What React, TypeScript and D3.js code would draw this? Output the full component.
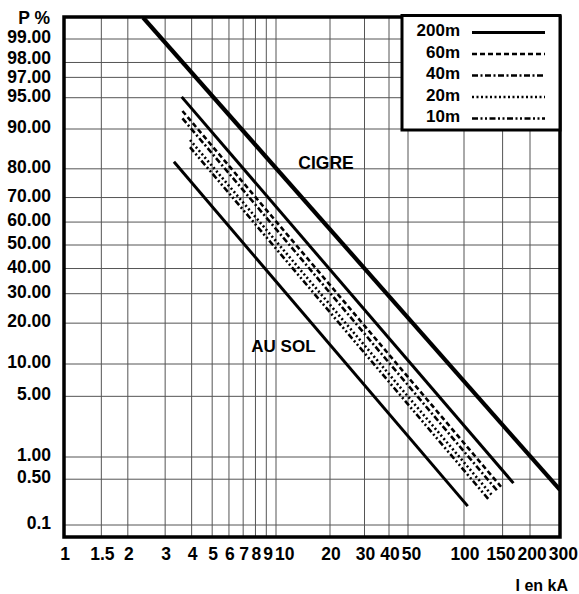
import { useRef, useEffect } from "react";
import * as d3 from "d3";

// current axis (kA) ticks
const xTicks = [1, 1.5, 2, 3, 4, 5, 6, 7, 8, 9, 10, 20, 30, 40, 50, 100, 150, 200, 300];
const xTickLabels = ["1", "1.5", "2", "3", "4", "5", "6", "7", "8", "9", "10", "20", "30", "40", "50", "100", "150", "200", "300"];

// probability axis (%) ticks
const pTicks = [99, 98, 97, 95, 90, 80, 70, 60, 50, 40, 30, 20, 10, 5, 1, 0.5, 0.1];
const pTickLabels = ["99.00", "98.00", "97.00", "95.00", "90.00", "80.00", "70.00", "60.00", "50.00", "40.00", "30.00", "20.00", "10.00", "5.00", "1.00", "0.50", "0.1"];

// each line: [I kA, P %] at start and end
const cigre: [number, number][] = [[2.36, 99.5], [300, 0.35]];
const h200: [number, number][] = [[3.59, 95.1], [168, 0.44]];
const h60: [number, number][] = [[3.62, 93.2], [147.5, 0.39]];
const h40: [number, number][] = [[3.62, 92.0], [143, 0.33]];
const h20: [number, number][] = [[3.93, 87.7], [135.6, 0.28]];
const h10: [number, number][] = [[3.93, 86.0], [130, 0.25]];
const auSol: [number, number][] = [[3.3, 82.1], [104, 0.2]];

const legendNames = ["200m", "60m", "40m", "20m", "10m"];
const legendDash = [null, "5,3", "6,2.5,2,2.5", "2,2.5", "6,2.5,2,2.5,2,2.5"];

const FONT = "'Liberation Sans', Arial, Helvetica, sans-serif";

// inverse normal CDF (Acklam)
function probit(pct: number) {
  const p = pct / 100;
  const a = [-39.69683028665376, 220.9460984245205, -275.9285104469687, 138.357751867269, -30.66479806614716, 2.506628277459239];
  const b = [-54.47609879822406, 161.5858368580409, -155.6989798598866, 66.80131188771972, -13.28068155288572];
  const c = [-0.007784894002430293, -0.3223964580411365, -2.400758277161838, -2.549732539343734, 4.374664141464968, 2.938163982698783];
  const d = [0.007784695709041462, 0.3224671290700398, 2.445134137142996, 3.754408661907416];
  const lo = 0.02425;
  if (p < lo) {
    const q = Math.sqrt(-2 * Math.log(p));
    return (((((c[0] * q + c[1]) * q + c[2]) * q + c[3]) * q + c[4]) * q + c[5]) / ((((d[0] * q + d[1]) * q + d[2]) * q + d[3]) * q + 1);
  }
  if (p > 1 - lo) {
    const q = Math.sqrt(-2 * Math.log(1 - p));
    return -(((((c[0] * q + c[1]) * q + c[2]) * q + c[3]) * q + c[4]) * q + c[5]) / ((((d[0] * q + d[1]) * q + d[2]) * q + d[3]) * q + 1);
  }
  const q = p - 0.5;
  const r = q * q;
  return (((((a[0] * r + a[1]) * r + a[2]) * r + a[3]) * r + a[4]) * r + a[5]) * q / (((((b[0] * r + b[1]) * r + b[2]) * r + b[3]) * r + b[4]) * r + 1);
}

export default function App() {
  const svgRef = useRef<SVGSVGElement>(null);

  useEffect(() => {
    if (!svgRef.current) return;
    const svg = d3.select(svgRef.current);
    svg.selectAll("*").remove();

    const frame = { left: 64, right: 560, top: 17, bottom: 537 };

    // the paper is hand-ruled, so both scales are piecewise
    const x = d3.scaleLog()
      .domain([1, 10, 20, 50, 100, 200, 300])
      .range([64, 276, 330, 408, 464, 530, 560]);
    const yz = d3.scaleLinear()
      .domain([0.1, 1, 10, 50, 90, 99].map(probit))
      .range([525, 457, 364, 245, 129, 39]);
    const y = (p: number) => yz(probit(p));

    svg.append("rect").attr("width", 579).attr("height", 594).attr("fill", "#fff");

    // grid
    const grid = svg.append("g").attr("stroke", "#555").attr("stroke-width", 1);
    grid.selectAll(".hg")
      .data(pTicks)
      .enter()
      .append("line")
      .attr("x1", frame.left).attr("x2", frame.right)
      .attr("y1", (d) => y(d)).attr("y2", (d) => y(d));
    grid.selectAll(".vg")
      .data(xTicks.slice(1, -1))
      .enter()
      .append("line")
      .attr("x1", (d) => x(d)).attr("x2", (d) => x(d))
      .attr("y1", frame.top).attr("y2", frame.bottom);

    // lines
    svg.append("clipPath").attr("id", "plot-clip")
      .append("rect")
      .attr("x", frame.left).attr("y", frame.top)
      .attr("width", frame.right - frame.left).attr("height", frame.bottom - frame.top);

    const line = d3.line<[number, number]>().x((d) => x(d[0])).y((d) => y(d[1]));
    const series = [
      { pts: cigre, w: 4.2, dash: null },
      { pts: h200, w: 3, dash: null },
      { pts: h60, w: 2.6, dash: legendDash[1] },
      { pts: h40, w: 2.6, dash: legendDash[2] },
      { pts: h20, w: 2.6, dash: legendDash[3] },
      { pts: h10, w: 2.6, dash: legendDash[4] },
      { pts: auSol, w: 3, dash: null },
    ];
    const lines = svg.append("g").attr("clip-path", "url(#plot-clip)");
    series.forEach((s) => {
      lines.append("path")
        .attr("d", line(s.pts))
        .attr("fill", "none")
        .attr("stroke", "#000")
        .attr("stroke-width", s.w)
        .attr("stroke-dasharray", s.dash);
    });

    // annotations
    svg.append("text").attr("x", x(19)).attr("y", y(80)).attr("text-anchor", "middle")
      .attr("font-family", FONT).attr("font-weight", "bold").attr("font-size", 17.5).text("CIGRE");
    svg.append("text").attr("x", x(11)).attr("y", y(12.5)).attr("text-anchor", "middle")
      .attr("font-family", FONT).attr("font-weight", "bold").attr("font-size", 17).text("AU SOL");

    // frame
    svg.append("rect")
      .attr("x", frame.left).attr("y", frame.top)
      .attr("width", frame.right - frame.left).attr("height", frame.bottom - frame.top)
      .attr("fill", "none").attr("stroke", "#000").attr("stroke-width", 3.5);

    // legend
    const lg = svg.append("g");
    lg.append("rect").attr("x", 402).attr("y", 15.5).attr("width", 158).attr("height", 114.5)
      .attr("fill", "#fff").attr("stroke", "#000").attr("stroke-width", 3);
    legendNames.forEach((name, i) => {
      const cy = 30 + i * 21.5;
      lg.append("text").attr("x", 460).attr("y", cy + 6).attr("text-anchor", "end")
        .attr("font-family", FONT).attr("font-weight", "bold").attr("font-size", 17).text(name);
      lg.append("line").attr("x1", 472).attr("x2", 545).attr("y1", cy + 2.5).attr("y2", cy + 2.5)
        .attr("stroke", "#000").attr("stroke-width", i === 0 ? 3 : 2.5)
        .attr("stroke-dasharray", legendDash[i]);
    });

    // axis labels
    const tl = svg.append("g").attr("font-family", FONT).attr("font-weight", "bold").attr("font-size", 17.5);

    // y labels: top-down, keep enough room between baselines
    const minStep = 19;
    const yPos: number[] = [];
    pTicks.forEach((p, i) => {
      let b = y(p) + 4;
      if (i > 0 && b - yPos[i - 1] < minStep) {
        const need = minStep - (b - yPos[i - 1]);
        yPos[i - 1] -= need * 0.7;
        b += need * 0.3;
      }
      yPos.push(b);
    });
    tl.selectAll(".yl")
      .data(pTicks)
      .enter()
      .append("text")
      .attr("x", 51)
      .attr("y", (d, i) => yPos[i])
      .attr("text-anchor", "end")
      .text((d, i) => pTickLabels[i]);

    // x labels: centred on ticks, then nudged apart where they collide
    const gap = 2;
    const xl = tl.selectAll<SVGTextElement, number>(".xl")
      .data(xTicks)
      .enter()
      .append("text")
      .attr("x", (d) => x(d) + 1)
      .attr("y", 560)
      .attr("text-anchor", "middle")
      .text((d, i) => xTickLabels[i]);
    const widths = xl.nodes().map((n) => n.getComputedTextLength());
    const cx = xTicks.map((d) => x(d) + 1);
    for (let i = 1; i < cx.length; i++) {
      const minC = cx[i - 1] + widths[i - 1] / 2 + widths[i] / 2 + gap;
      if (cx[i] < minC) cx[i] = minC;
    }
    const last = cx.length - 1;
    cx[last] = Math.min(cx[last], 578 - widths[last] / 2);
    for (let i = last - 1; i >= 0; i--) {
      const maxC = cx[i + 1] - widths[i + 1] / 2 - widths[i] / 2 - gap;
      if (cx[i] > maxC) cx[i] = maxC;
    }
    xl.attr("x", (d, i) => cx[i]);

    tl.append("text").attr("x", 50).attr("y", 24).attr("text-anchor", "end").text("P %");
    tl.append("text").attr("x", 568).attr("y", 591).attr("text-anchor", "end").attr("font-size", 16).text("I en kA");
  }, []);

  return (
    <svg
      ref={svgRef}
      width={579}
      height={594}
      style={{ position: "absolute", left: 0, top: 0, display: "block" }}
    />
  );
}
